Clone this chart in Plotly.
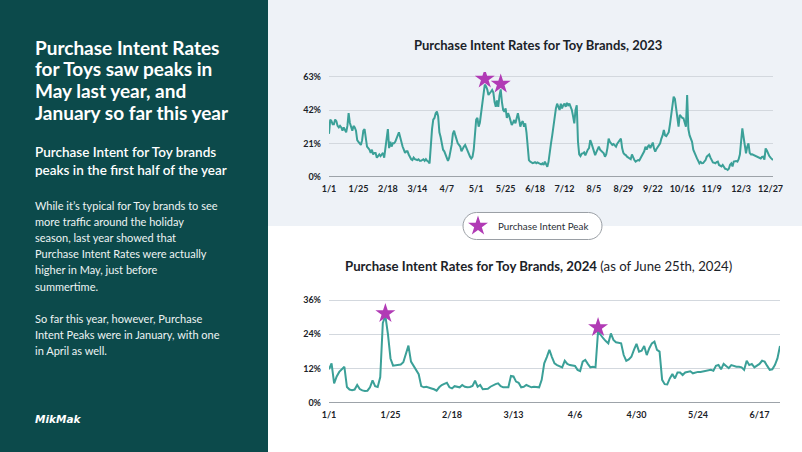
import pandas as pd
import plotly.graph_objects as go

W, H = 802, 452

# ---------------- data ----------------
rate_2023 = [
    27, 36, 35, 33, 33, 36, 35, 32, 31, 32,
    31, 29, 31, 29, 28, 32, 40, 34, 31, 29,
    32, 31, 29, 23, 22, 21, 20, 23, 29, 30,
    25, 19, 18, 17, 15, 17, 14, 15, 15, 12,
    13, 14, 13, 14, 15, 12, 17, 24, 30, 18,
    22, 19, 21, 21, 22, 24, 26, 28, 25, 21,
    19, 17, 15, 16, 16, 14, 12, 11, 10.5, 12,
    11, 10.5, 10.5, 11, 10, 10, 10.5, 11, 10, 11,
    10, 9.5, 8.4, 21, 30, 36, 37, 40, 41, 38,
    28, 25, 20, 17, 16, 14, 12.6, 10, 12, 16,
    20, 27, 29, 26, 23, 21, 20, 19, 16, 18,
    19, 20, 18, 16, 14, 12.6, 11.5, 12.5, 17, 27,
    36, 37, 31.5, 34, 40, 46, 53, 58, 57, 55,
    51.5, 53, 53.5, 54.6, 53, 47, 44, 48, 44, 51,
    55, 47, 42, 41, 43, 37, 40, 38, 34.6, 32.5,
    34, 35.7, 33.6, 38, 40, 36, 31.5, 34, 35, 31.5,
    33.6, 28, 16, 10.5, 9.5, 9, 8.5, 8.8, 9.2, 8.5,
    9, 8.6, 8, 7.8, 8.4, 7.4, 9.5, 7.5, 6.3, 9.5,
    14, 21, 26, 32, 40, 43, 46, 44, 42, 46,
    43, 45, 46, 44, 46.5, 45, 46, 44, 42, 38,
    33.6, 42, 45, 22, 14, 13, 14.5, 14.7, 15.3, 13.5,
    15.5, 17, 18, 23, 21, 18.5, 16, 13.6, 15.5, 17.5,
    18.9, 17, 16, 15, 14.7, 12.6, 14, 18, 24, 22,
    20.5, 20, 20.5, 19.5, 18.9, 20.8, 22, 23, 24, 18,
    15, 14, 13.6, 12.6, 12, 11.5, 11, 14, 11.5, 10.5,
    9.5, 10, 10.5, 10.2, 11.5, 12.6, 14.5, 16, 18.9, 17,
    19, 20, 18, 20.5, 21.5, 17.8, 15.8, 17.5, 18.8, 20,
    21, 24, 26, 29.4, 26, 25.5, 26.5, 28, 33, 38,
    45, 50.4, 49, 44, 38, 31.5, 38.9, 37.8, 37, 36.8,
    33, 31.5, 51.5, 30, 26, 24, 22, 17, 14.7, 13.7,
    11.5, 10, 8.4, 9.3, 8.5, 8.6, 9.3, 10.5, 12.6, 13.5,
    14, 12, 10, 9, 8.8, 8.4, 9.2, 9.5, 7.4, 7,
    6.5, 7.4, 5.7, 5, 4.8, 4.2, 5, 7.5, 8.4, 6.5,
    9.5, 9.9, 9.9, 9.5, 11, 14, 24, 30.5, 25, 18,
    14.7, 18.9, 21, 15, 14, 14.1, 13.7, 13.3, 13, 12.6,
    12.4, 12, 11.5, 12.4, 12.6, 10.8, 17.8, 16.5, 14, 13,
    12, 11, 10.5,
]

rate_2024 = [
    11.7, 13.8, 6.8, 9.2, 10.8, 11.8, 12.6, 5.5, 4.6, 4.4,
    4.6, 6.2, 4.8, 4.3, 4.1, 4.2, 5.4, 7.8, 5.8, 5.5,
    9.0, 28.0, 30.4, 24.0, 15.5, 13.0, 13.1, 13.2, 13.4, 14.2,
    17.0, 20.0, 14.4, 12.9, 11.8, 10.0, 5.8, 5.4, 5.6, 5.4,
    5.0, 4.7, 4.2, 5.4, 6.2, 6.6, 7.0, 5.4, 5.0, 5.8,
    5.6, 5.4, 6.2, 5.6, 5.4, 5.5, 5.9, 7.7, 5.6, 6.2,
    4.7, 4.8, 4.9, 5.6, 6.2, 6.5, 6.8, 5.8, 5.4, 5.4,
    5.4, 9.4, 9.2, 7.4, 7.0, 5.4, 5.6, 6.2, 5.8, 5.4,
    5.6, 5.5, 5.4, 8.0, 13.8, 16.0, 18.5, 16.0, 13.8, 13.2,
    12.9, 12.4, 14.7, 13.6, 13.2, 13.0, 12.9, 11.5, 11.1, 14.4,
    15.0, 13.6, 12.4, 12.6, 12.4, 25.0, 23.6, 22.6, 21.6, 20.8,
    24.3, 22.0, 21.2, 20.9, 20.8, 16.7, 14.7, 15.2, 16.1, 18.5,
    20.6, 17.9, 18.2, 19.9, 16.7, 19.1, 20.8, 21.4, 18.5, 17.9,
    8.0, 6.5, 6.4, 8.5, 10.1, 8.5, 10.6, 10.6, 9.7, 10.6,
    10.9, 11.0, 10.3, 10.6, 10.8, 10.8, 11.0, 11.1, 11.3, 11.5,
    11.2, 12.9, 13.2, 11.7, 13.6, 12.9, 12.1, 13.2, 12.9, 12.6,
    12.6, 12.4, 11.5, 14.7, 13.2, 13.6, 12.4, 12.9, 13.6, 14.7,
    14.4, 12.9, 11.5, 11.7, 13.2, 15.5, 19.9,
]

peak_dates_2023 = ["2023-05-08", "2023-05-21"]
peak_values_2023 = [61.5, 58.4]
peak_dates_2024 = ["2024-01-23", "2024-04-15"]
peak_values_2024 = [31.3, 26.4]

ticks_2023 = ["1/1", "1/25", "2/18", "3/14", "4/7", "5/1", "5/25", "6/18",
              "7/12", "8/5", "8/29", "9/22", "10/16", "11/9", "12/3", "12/27"]
ticks_2024 = ["1/1", "1/25", "2/18", "3/13", "4/6", "4/30", "5/24", "6/17"]
yticks_2023 = [0, 21, 42, 63]
yticks_2024 = [0, 12, 24, 36]

title_2023 = "Purchase Intent Rates for Toy Brands, 2023"
title_2024 = "Purchase Intent Rates for Toy Brands, 2024"
title_2024_note = "(as of June 25th, 2024)"
legend_label = "Purchase Intent Peak"

headline_lines = ["Purchase Intent Rates", "for Toys saw peaks in",
                  "May last year, and", "January so far this year"]
subhead_lines = ["Purchase Intent for Toy brands",
                 "peaks in the first half of the year"]
body_lines = ["While it\u2019s typical for Toy brands to see",
              "more traffic around the holiday",
              "season, last year showed that",
              "Purchase Intent Rates were actually",
              "higher in May, just before",
              "summertime."]
body2_lines = ["So far this year, however, Purchase",
               "Intent Peaks were in January, with one",
               "in April as well."]
logo_text = "MikMak"

# ---------------- styling ----------------
DARK = "#0c4a4b"
LIGHT_BG = "#eef2f7"
LINE = "#3ba098"
STAR = "#b13bb5"
TXT = "#1b2228"
FONT = "Lato"

dates_2023 = pd.date_range("2023-01-01", periods=len(rate_2023), freq="D")
dates_2024 = pd.date_range("2024-01-01", periods=len(rate_2024), freq="D")
tickvals_2023 = [pd.Timestamp(f"2023-{t.split('/')[0]}-{t.split('/')[1]}") for t in ticks_2023]
tickvals_2024 = [pd.Timestamp(f"2024-{t.split('/')[0]}-{t.split('/')[1]}") for t in ticks_2024]


def px(x):
    return x / W


def py(y):
    return 1 - y / H


fig = go.Figure()

fig.add_trace(go.Scatter(x=dates_2023, y=rate_2023, mode="lines",
                         line=dict(color=LINE, width=2), showlegend=False,
                         xaxis="x", yaxis="y"))
fig.add_trace(go.Scatter(x=pd.to_datetime(peak_dates_2023), y=peak_values_2023,
                         mode="markers", name=legend_label,
                         marker=dict(symbol="star", size=15, color=STAR,
                                     line=dict(width=0)),
                         showlegend=True, xaxis="x", yaxis="y"))
fig.add_trace(go.Scatter(x=dates_2024, y=rate_2024, mode="lines",
                         line=dict(color=LINE, width=2), showlegend=False,
                         xaxis="x2", yaxis="y2"))
fig.add_trace(go.Scatter(x=pd.to_datetime(peak_dates_2024), y=peak_values_2024,
                         mode="markers", name=legend_label,
                         marker=dict(symbol="star", size=15, color=STAR,
                                     line=dict(width=0)),
                         showlegend=False, xaxis="x2", yaxis="y2"))

tickfont = dict(family=FONT, size=9, color=TXT, weight="bold")

common_x = dict(type="date", showgrid=False, showline=False, zeroline=False,
                ticks="", tickfont=tickfont, fixedrange=True, automargin=False,
                ticklabelstandoff=5)
common_y = dict(showgrid=True, gridcolor="#d3d8de", gridwidth=1,
                zeroline=True, zerolinecolor="#9da3a9", zerolinewidth=1.5,
                showline=False, ticks="", tickfont=tickfont,
                fixedrange=True, automargin=False, ticklabelstandoff=7)

shapes = []
# backgrounds
shapes.append(dict(type="rect", xref="paper", yref="paper", x0=0, x1=1, y0=0, y1=1,
                   fillcolor="white", line=dict(width=0), layer="below"))
shapes.append(dict(type="rect", xref="paper", yref="paper", x0=px(268), x1=1,
                   y0=py(226), y1=1, fillcolor=LIGHT_BG, line=dict(width=0),
                   layer="below"))
shapes.append(dict(type="rect", xref="paper", yref="paper", x0=0, x1=px(268),
                   y0=0, y1=1, fillcolor=DARK, line=dict(width=0), layer="below"))

# legend pill (rounded rectangle)
lx0, lx1, ly0, ly1 = 463, 602, 212.5, 239.5
r = (ly1 - ly0) / 2
k = 0.5523 * r
pts = [
    ("M", [(lx0 + r, ly0)]),
    ("L", [(lx1 - r, ly0)]),
    ("C", [(lx1 - r + k, ly0), (lx1, ly0 + r - k), (lx1, ly0 + r)]),
    ("C", [(lx1, ly0 + r + k), (lx1 - r + k, ly1), (lx1 - r, ly1)]),
    ("L", [(lx0 + r, ly1)]),
    ("C", [(lx0 + r - k, ly1), (lx0, ly0 + r + k), (lx0, ly0 + r)]),
    ("C", [(lx0, ly0 + r - k), (lx0 + r - k, ly0), (lx0 + r, ly0)]),
]
path = ""
for cmd, plist in pts:
    path += cmd + " " + " ".join(f"{px(a):.5f},{py(b):.5f}" for a, b in plist) + " "
path += "Z"
shapes.append(dict(type="path", xref="paper", yref="paper", path=path,
                   fillcolor="white", line=dict(color="#9a9fa5", width=1),
                   layer="below"))

annotations = []
annotations.append(dict(text=f"<b>{title_2023}</b>", x=px(538), y=py(45),
                        xref="paper", yref="paper", showarrow=False,
                        xanchor="center", yanchor="middle",
                        font=dict(family=FONT, size=13, color=TXT)))
annotations.append(dict(text=f"<b>{title_2024}</b> {title_2024_note}",
                        x=px(538), y=py(266), xref="paper", yref="paper",
                        showarrow=False, xanchor="center", yanchor="middle",
                        font=dict(family=FONT, size=13.2, color=TXT)))

for i, t in enumerate(headline_lines):
    annotations.append(dict(text=f"<b>{t}</b>", x=px(33), y=py(47 + 21.7 * i),
                            xref="paper", yref="paper", showarrow=False,
                            xanchor="left", yanchor="middle",
                            font=dict(family=FONT, size=19, color="white")))
for i, t in enumerate(subhead_lines):
    annotations.append(dict(text=t, x=px(33), y=py(152 + 17.6 * i),
                            xref="paper", yref="paper", showarrow=False,
                            xanchor="left", yanchor="middle",
                            font=dict(family=FONT, size=13.5, color="white",
                                      weight=600)))
for i, t in enumerate(body_lines):
    annotations.append(dict(text=t, x=px(33), y=py(205.5 + 16.1 * i),
                            xref="paper", yref="paper", showarrow=False,
                            xanchor="left", yanchor="middle",
                            font=dict(family=FONT, size=11, color="#eef4f4")))
for i, t in enumerate(body2_lines):
    annotations.append(dict(text=t, x=px(33), y=py(318 + 16.1 * i),
                            xref="paper", yref="paper", showarrow=False,
                            xanchor="left", yanchor="middle",
                            font=dict(family=FONT, size=11, color="#eef4f4")))
annotations.append(dict(text=f"<b><i>{logo_text}</i></b>", x=px(33), y=py(419),
                        xref="paper", yref="paper", showarrow=False,
                        xanchor="left", yanchor="middle",
                        font=dict(family="DejaVu Sans", size=10.5, color="white")))

fig.update_layout(
    width=W, height=H,
    margin=dict(l=0, r=0, t=0, b=0, pad=0, autoexpand=False),
    paper_bgcolor="white",
    plot_bgcolor="rgba(0,0,0,0)",
    font=dict(family=FONT, color=TXT),
    xaxis=dict(domain=[px(329), px(773)], anchor="y",
               range=[dates_2023[0], dates_2023[-1]],
               tickvals=tickvals_2023, ticktext=ticks_2023, **common_x),
    yaxis=dict(domain=[py(176.7), py(71.9)], anchor="x", range=[0, 66],
               tickvals=yticks_2023, ticktext=[f"{v}%" for v in yticks_2023],
               **common_y),
    xaxis2=dict(domain=[px(329), px(780)], anchor="y2",
                range=[dates_2024[0], dates_2024[-1]],
                tickvals=tickvals_2024, ticktext=ticks_2024, **common_x),
    yaxis2=dict(domain=[py(402.7), py(294.3)], anchor="x2", range=[0, 38],
                tickvals=yticks_2024, ticktext=[f"{v}%" for v in yticks_2024],
                **common_y),
    showlegend=True,
    legend=dict(x=px(458), y=py(226), xanchor="left", yanchor="middle",
                bgcolor="rgba(0,0,0,0)", borderwidth=0, itemwidth=30,
                font=dict(family=FONT, size=9.8, color="#2a2f35")),
    shapes=shapes,
    annotations=annotations,
    hovermode=False,
)

fig.write_html(
    "out.html",
    config={"displayModeBar": False, "staticPlot": True},
    post_script=(
        "document.documentElement.style.margin='0';"
        "document.body.style.margin='0';"
        "document.body.style.overflow='hidden';"
        "var d=document.getElementById('{plot_id}');"
        "d.style.position='fixed';d.style.left='0px';d.style.top='0px';"
    ),
)
